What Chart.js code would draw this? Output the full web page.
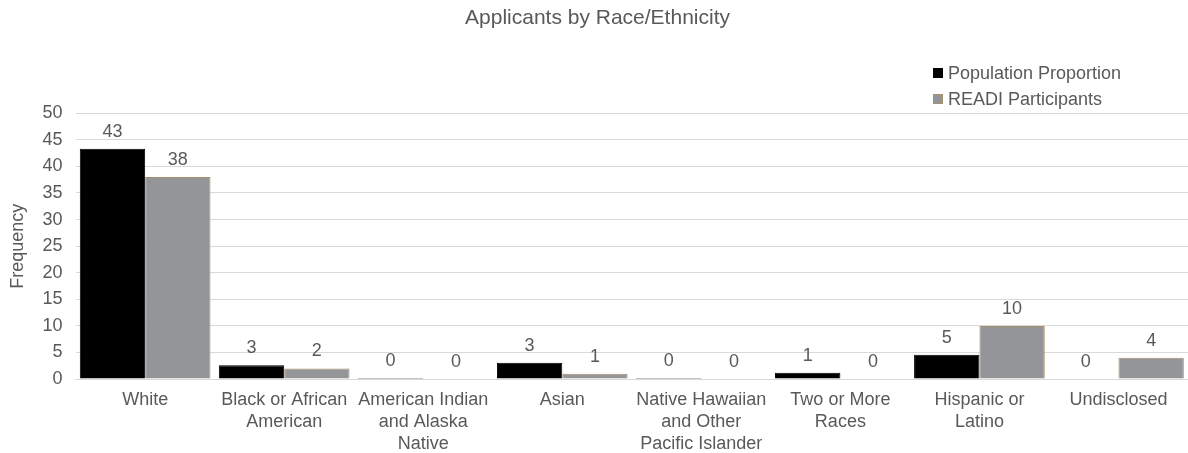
<!DOCTYPE html>
<html>
<head>
<meta charset="utf-8">
<script src="https://cdn.jsdelivr.net/npm/chart.js@4"></script>
<style>
  body { margin: 0; background: #fff; font-family: "Liberation Sans", Arial, sans-serif; }
  #wrap { position: relative; width: 1188px; height: 453px; }
  #legend { position: absolute; left: 933px; top: 62px; color: #595959; font-size: 18px; }
  #legend div { height: 26px; line-height: 22px; }
  #legend span.box { display: inline-block; width: 10px; height: 10px; margin-right: 5px; vertical-align: 1px; box-sizing: border-box; }
</style>
</head>
<body>
<div id="wrap">
  <canvas id="chart"></canvas>
  <div id="legend">
    <div><span class="box" style="background:#000"></span>Population Proportion</div>
    <div><span class="box" style="background:#939598;border:1px solid #a6906b"></span>READI Participants</div>
  </div>
</div>
<script>
// Data
const categories = [
  "White",
  ["Black or African", "American"],
  ["American Indian", "and Alaska", "Native"],
  "Asian",
  ["Native Hawaiian", "and Other", "Pacific Islander"],
  ["Two or More", "Races"],
  ["Hispanic or", "Latino"],
  "Undisclosed"
];
const populationProportion = [43.3, 2.6, 0.2, 3.1, 0.2, 1.2, 4.6, 0];
const readiParticipants = [38, 2, 0, 1, 0, 0, 10, 4];
const populationLabels = [43, 3, 0, 3, 0, 1, 5, 0];
const readiLabels = [38, 2, 0, 1, 0, 0, 10, 4];
const yTicks = [0, 5, 10, 15, 20, 25, 30, 35, 40, 45, 50];

const textColor = "#595959";
const fontFamily = "'Liberation Sans', Arial, sans-serif";

// Draw value labels above bars
const valueLabels = {
  id: "valueLabels",
  afterDatasetsDraw(chart) {
    const ctx = chart.ctx;
    const labelSets = [populationLabels, readiLabels];
    ctx.save();
    ctx.font = "18px " + fontFamily;
    ctx.fillStyle = textColor;
    ctx.textAlign = "center";
    ctx.textBaseline = "bottom";
    chart.data.datasets.forEach((ds, i) => {
      chart.getDatasetMeta(i).data.forEach((bar, j) => {
        ctx.fillText(labelSets[i][j], bar.x, bar.y - 8);
      });
    });
    ctx.restore();
  }
};

const ctx = document.getElementById("chart").getContext("2d");
new Chart(ctx, {
  type: "bar",
  data: {
    labels: categories,
    datasets: [
      {
        label: "Population Proportion",
        data: populationProportion,
        backgroundColor: "#000000",
        borderColor: "#000000",
        borderWidth: 1
      },
      {
        label: "READI Participants",
        data: readiParticipants,
        backgroundColor: "#939598",
        borderColor: "#a6906b",
        borderWidth: 1
      }
    ]
  },
  options: {
    responsive: true,
    maintainAspectRatio: false,
    animation: false,
    categoryPercentage: 0.94,
    barPercentage: 1,
    layout: { padding: { left: 7, right: 0, top: 0, bottom: -12 } },
    plugins: {
      legend: { display: false },
      tooltip: { enabled: false },
      title: {
        display: true,
        text: "Applicants by Race/Ethnicity",
        color: textColor,
        font: { family: fontFamily, size: 21, weight: "normal" },
        padding: { top: 6, bottom: 82 }
      }
    },
    scales: {
      x: {
        grid: { display: false, drawTicks: false },
        border: { color: "#d9d9d9" },
        ticks: {
          color: textColor,
          font: { family: fontFamily, size: 18, lineHeight: 1.22 },
          padding: 10,
          maxRotation: 0,
          autoSkip: false
        }
      },
      y: {
        min: 0,
        max: 50,
        afterBuildTicks: axis => { axis.ticks = yTicks.map(v => ({ value: v })); },
        grid: { color: "#d9d9d9", drawTicks: false },
        border: { display: false },
        title: {
          display: true,
          text: "Frequency",
          color: textColor,
          font: { family: fontFamily, size: 18 },
          padding: { top: 0, bottom: 1 }
        },
        ticks: {
          color: textColor,
          font: { family: fontFamily, size: 18 },
          padding: 13
        }
      }
    }
  },
  plugins: [valueLabels]
});
</script>
</body>
</html>
